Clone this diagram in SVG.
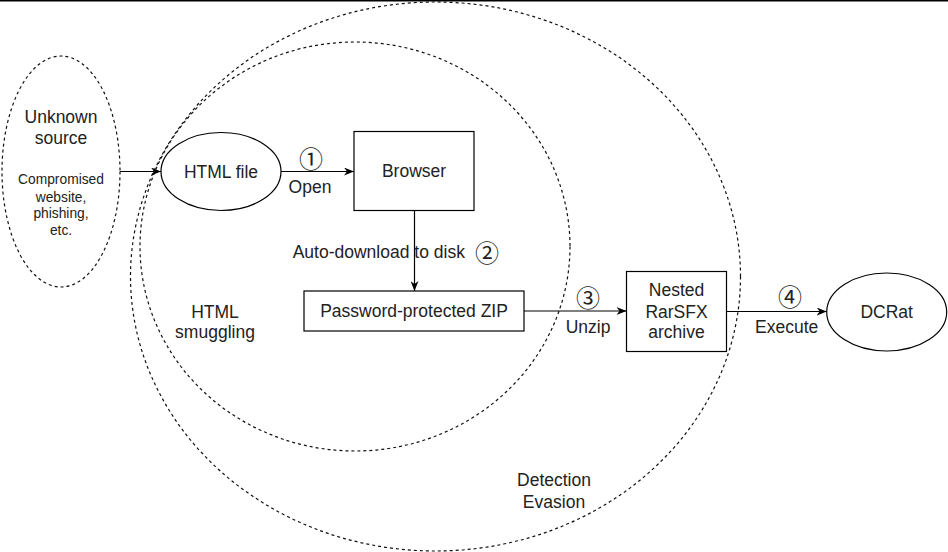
<svg xmlns="http://www.w3.org/2000/svg" width="948" height="552" viewBox="0 0 948 552">
<style>
.t{font-family:"Liberation Sans",Arial,sans-serif;font-size:17.5px;fill:#222;text-anchor:middle}
.s{font-family:"Liberation Sans",Arial,sans-serif;font-size:13.8px;fill:#222;text-anchor:middle}
.n{font-family:"Noto Sans CJK JP","DejaVu Sans",sans-serif;font-size:24px;fill:#222;text-anchor:middle;dominant-baseline:central}
.dash{fill:none;stroke:#111;stroke-width:1.2;stroke-dasharray:3 3}
.box{fill:#fff;stroke:#000;stroke-width:1.2}
.edge{fill:none;stroke:#000;stroke-width:1.2}
</style>
<defs>
<marker id="arr" viewBox="0 0 10 8" refX="10" refY="4" markerWidth="10" markerHeight="8" markerUnits="userSpaceOnUse" orient="auto">
<path d="M0,0 L10,4 L0,8 L3,4 z" fill="#000"/>
</marker>
</defs>
<rect x="0" y="0" width="948" height="1.5" fill="#000"/>
<g id="detection-evasion">
<ellipse class="dash" cx="435.5" cy="276.5" rx="305" ry="274.5"/>
<text class="t" x="554" y="486.3">Detection</text>
<text class="t" x="554" y="508">Evasion</text>
</g>
<g id="html-smuggling">
<ellipse class="dash" cx="355" cy="246.5" rx="215" ry="204.5"/>
<text class="t" x="215" y="318">HTML</text>
<text class="t" x="215" y="338">smuggling</text>
</g>
<g id="unknown-source">
<ellipse class="dash" cx="61" cy="171.5" rx="59" ry="115.5"/>
<text class="t" x="61" y="123">Unknown</text>
<text class="t" x="61" y="143.6">source</text>
<text class="s" x="61" y="183.8">Compromised</text>
<text class="s" x="61" y="201.5">website,</text>
<text class="s" x="61" y="218">phishing,</text>
<text class="s" x="61" y="234.8">etc.</text>
</g>
<g id="html-file">
<ellipse class="box" cx="221" cy="171.5" rx="60" ry="39"/>
<text class="t" x="221" y="177.8">HTML file</text>
</g>
<g id="browser">
<rect class="box" x="354" y="131.5" width="120" height="79"/>
<text class="t" x="414" y="177.3">Browser</text>
</g>
<g id="zip">
<rect class="box" x="304" y="291" width="220" height="40"/>
<text class="t" x="414" y="317.3">Password-protected ZIP</text>
</g>
<g id="rarsfx">
<rect class="box" x="626.5" y="271.5" width="100" height="80"/>
<text class="t" x="676.5" y="296.3">Nested</text>
<text class="t" x="676.5" y="318">RarSFX</text>
<text class="t" x="676.5" y="338">archive</text>
</g>
<g id="dcrat">
<ellipse class="box" cx="886.7" cy="312" rx="60" ry="39"/>
<text class="t" x="886.7" y="318.3">DCRat</text>
</g>
<g id="connectors">
<path class="edge" d="M120,171.5 H161" marker-end="url(#arr)"/>
<path class="edge" d="M281,171.5 H354" marker-end="url(#arr)"/>
<path class="edge" d="M414.5,210.5 V291" marker-end="url(#arr)"/>
<path class="edge" d="M524,311 H626.5" marker-end="url(#arr)"/>
<path class="edge" d="M726.5,311.5 H826.7" marker-end="url(#arr)"/>
<text class="n" x="311" y="157">①</text>
<text class="t" x="310" y="193">Open</text>
<text class="t" x="292.7" y="258" style="text-anchor:start">Auto-download to disk</text>
<text class="n" x="487" y="251">②</text>
<text class="n" x="588" y="296">③</text>
<text class="t" x="588" y="333">Unzip</text>
<text class="n" x="790" y="295">④</text>
<text class="t" x="786.7" y="333">Execute</text>
</g>
</svg>
